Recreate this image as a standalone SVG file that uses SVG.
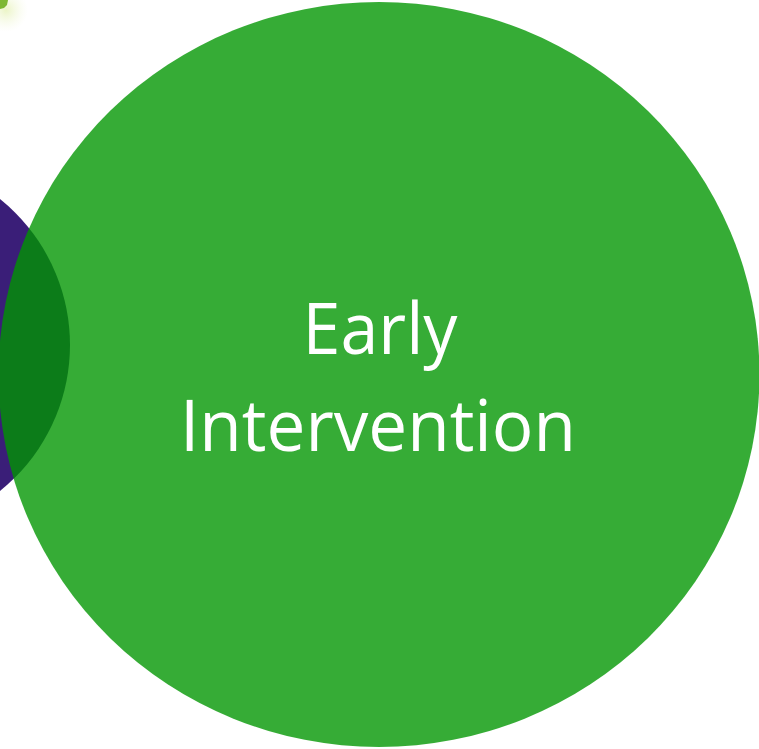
<svg xmlns="http://www.w3.org/2000/svg" width="759" height="749" viewBox="0 0 759 749">
  <style>
    .label { fill: #ffffff; font-family: "Open Sans", "Liberation Sans", sans-serif; font-size: 71px; text-anchor: middle; }
  </style>
  <defs>
    <radialGradient id="glow" cx="0.5" cy="0.5" r="0.5">
      <stop offset="0" stop-color="#e6f2b8" stop-opacity="0.8"/>
      <stop offset="1" stop-color="#f4f9e0" stop-opacity="0"/>
    </radialGradient>
  </defs>
  <rect width="759" height="749" fill="#ffffff"/>
  <g id="corner-shape">
    <ellipse cx="6" cy="10" rx="22" ry="22" fill="url(#glow)"/>
    <path d="M0,0 L8,0 L7,5 L4,8 L0,9 Z" fill="#7db833"/>
  </g>
  <g id="purple-node">
    <circle cx="-117" cy="345" r="187" fill="#3a1e78"/>
  </g>
  <g id="early-intervention">
    <ellipse cx="379" cy="374.5" rx="380.5" ry="372.5" fill="#009600" fill-opacity="0.79"/>
    <text class="label" x="380" y="354" textLength="155" lengthAdjust="spacingAndGlyphs">Early</text>
    <text class="label" x="378" y="451" textLength="396" lengthAdjust="spacingAndGlyphs">Intervention</text>
  </g>
  <g id="connectors"></g>
</svg>
